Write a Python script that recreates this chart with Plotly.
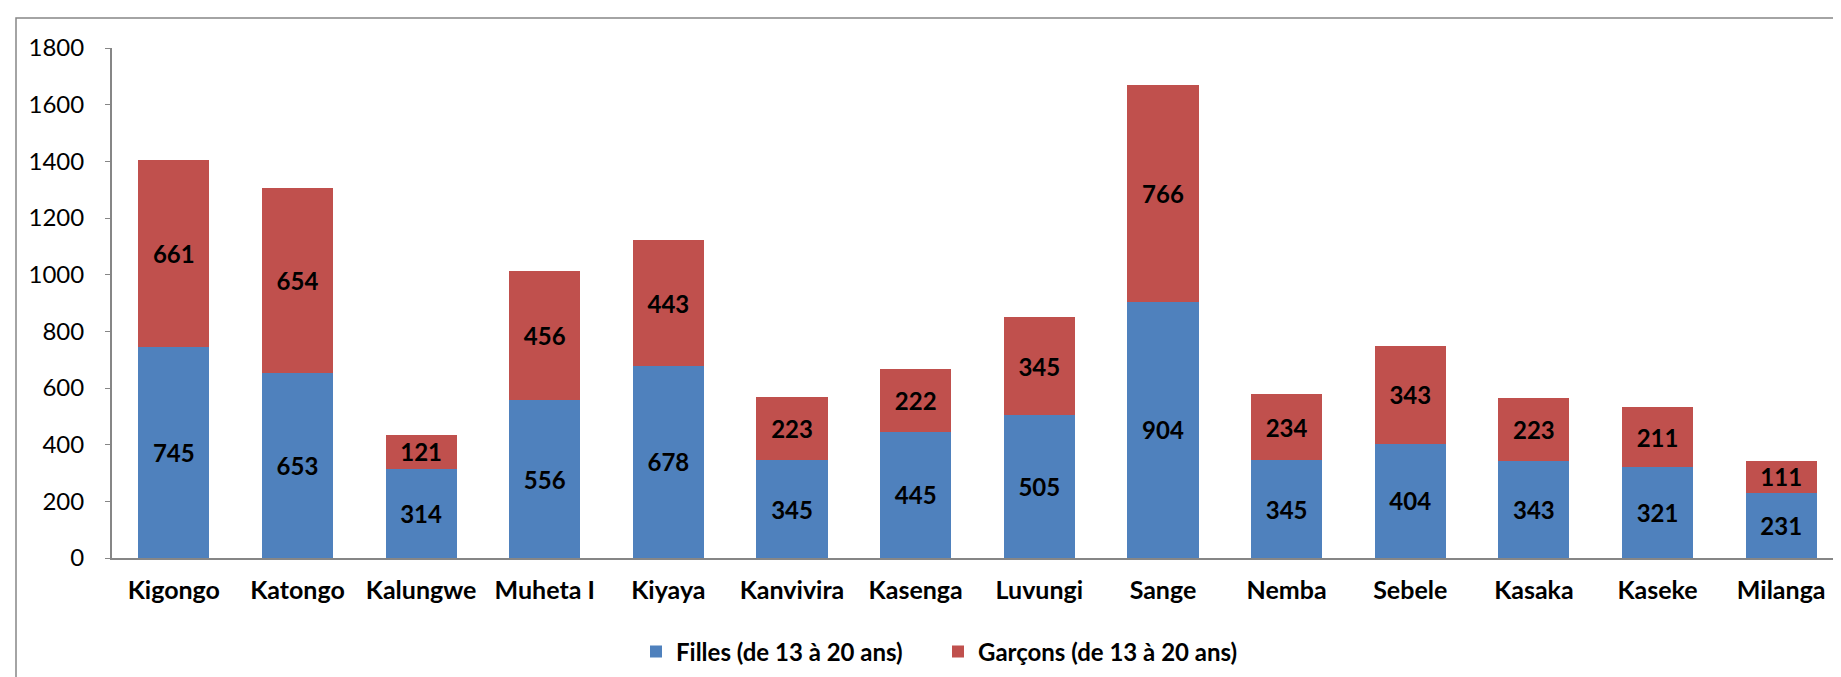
import plotly.graph_objects as go

categories = ["Kigongo", "Katongo", "Kalungwe", "Muheta I", "Kiyaya", "Kanvivira", "Kasenga",
              "Luvungi", "Sange", "Nemba", "Sebele", "Kasaka", "Kaseke", "Milanga"]
filles = [745, 653, 314, 556, 678, 345, 445, 505, 904, 345, 404, 343, 321, 231]
garcons = [661, 654, 121, 456, 443, 223, 222, 345, 766, 234, 343, 223, 211, 111]
y_ticks = [0, 200, 400, 600, 800, 1000, 1200, 1400, 1600, 1800]

FONT = "Lato"
W, H = 1841, 677
L, R, T, B = 104, 6, 40, 127
pw = W - L - R
ph = H - T - B

fig = go.Figure()
fig.add_trace(go.Bar(
    x=categories, y=filles, name="Filles (de 13 à 20 ans)",
    marker=dict(color="#4F81BD", line=dict(width=0)),
    text=filles, textposition="inside", insidetextanchor="middle",
    textangle=0, constraintext="none",
    textfont=dict(family=FONT, size=24, color="black", weight="bold"),
))
fig.add_trace(go.Bar(
    x=categories, y=garcons, name="Garçons (de 13 à 20 ans)",
    marker=dict(color="#C0504D", line=dict(width=0)),
    text=garcons, textposition="inside", insidetextanchor="middle",
    textangle=0, constraintext="none",
    textfont=dict(family=FONT, size=24, color="black", weight="bold"),
))

fig.update_layout(
    width=W, height=H,
    barmode="stack", bargap=0.425,
    margin=dict(l=L, r=R, t=T, b=B),
    paper_bgcolor="white", plot_bgcolor="white",
    font=dict(family=FONT, size=24, color="black"),
    xaxis=dict(
        showline=True, linecolor="#868686", linewidth=2,
        tickfont=dict(family=FONT, size=25, color="black", weight="bold"),
        ticks="", showgrid=False, ticklabelstandoff=9,
    ),
    yaxis=dict(
        range=[0, 1800], tickvals=y_ticks, showline=True, linecolor="#868686", linewidth=2,
        ticks="outside", ticklen=5, tickcolor="#868686", showgrid=False,
        tickfont=dict(family=FONT, size=24, color="black"), ticklabelstandoff=16,
    ),
    legend=dict(
        orientation="h", x=(628 - L) / pw, xanchor="left",
        y=(H - B - 644) / ph, yanchor="middle",
        font=dict(family=FONT, size=24, color="black", weight="bold"),
        traceorder="normal", itemwidth=30,
        entrywidth=257, entrywidthmode="pixels",
    ),
    shapes=[dict(
        type="rect", xref="paper", yref="paper",
        x0=(8 - L) / pw, x1=(W + 10 - L) / pw,
        y0=-0.4, y1=(H - B - 10) / ph,
        line=dict(color="#868686", width=1.5), fillcolor="rgba(0,0,0,0)", layer="below",
    )],
)

fig.write_html("out.html")
